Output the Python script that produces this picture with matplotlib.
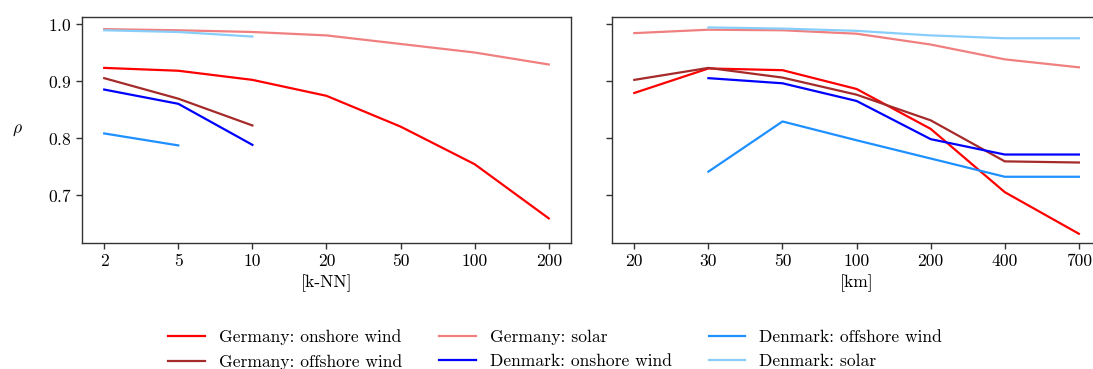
import numpy as np
import matplotlib
matplotlib.use("Agg")
import matplotlib.pyplot as plt

plt.rcParams['font.family'] = 'serif'
plt.rcParams['font.serif'] = ['cmr10', 'DejaVu Serif']
plt.rcParams['mathtext.fontset'] = 'cm'
plt.rcParams['axes.formatter.use_mathtext'] = True
plt.rcParams['font.size'] = 12.6

# k-NN panel
knn_labels = ['2', '5', '10', '20', '50', '100', '200']
knn_de_onshore = [0.923, 0.918, 0.902, 0.874, 0.820, 0.754, 0.659]
knn_de_offshore = [0.905, 0.869, 0.822]
knn_de_solar = [0.991, 0.989, 0.986, 0.980, 0.965, 0.950, 0.929]
knn_dk_onshore = [0.885, 0.860, 0.788]
knn_dk_offshore = [0.808, 0.787]
knn_dk_solar = [0.989, 0.986, 0.978]

# km panel
km_labels = ['20', '30', '50', '100', '200', '400', '700']
km_de_onshore = [0.879, 0.922, 0.919, 0.886, 0.816, 0.705, 0.632]
km_de_offshore = [0.902, 0.923, 0.906, 0.876, 0.831, 0.759, 0.757]
km_de_solar = [0.984, 0.990, 0.989, 0.983, 0.964, 0.938, 0.924]
km_dk_onshore = [0.905, 0.896, 0.865, 0.798, 0.771, 0.771]
km_dk_offshore = [0.741, 0.829, 0.796, 0.764, 0.732, 0.732]
km_dk_solar = [0.994, 0.992, 0.988, 0.980, 0.975, 0.975]

names = ['Germany: onshore wind', 'Germany: offshore wind', 'Germany: solar',
         'Denmark: onshore wind', 'Denmark: offshore wind', 'Denmark: solar']
colors = ['red', 'brown', 'lightcoral', 'blue', 'dodgerblue', 'lightskyblue']

fig = plt.figure(figsize=(10.93, 3.69), dpi=100)
ax1 = fig.add_axes([0.075, 0.3415, 0.4474, 0.6132])
# right panel runs past the figure edge, as in the original crop
ax2 = fig.add_axes([0.560, 0.3415, 0.4474, 0.6132], sharey=ax1)

knn_series = [knn_de_onshore, knn_de_offshore, knn_de_solar,
              knn_dk_onshore, knn_dk_offshore, knn_dk_solar]
for vals, c, n in zip(knn_series, colors, names):
    ax1.plot(np.arange(len(vals)), vals, color=c, lw=1.6, label=n)

km_series = [km_de_onshore, km_de_offshore, km_de_solar,
             km_dk_onshore, km_dk_offshore, km_dk_solar]
for vals, c, n in zip(km_series, colors, names):
    start = len(km_labels) - len(vals)
    ax2.plot(np.arange(start, len(km_labels)), vals, color=c, lw=1.6, label=n)

ax1.set_xticks(range(len(knn_labels)))
ax1.set_xticklabels(knn_labels)
ax1.set_xlim(-0.3, 6.3)
ax1.set_xlabel('[k-NN]', labelpad=4)
ax1.set_ylabel(r'$\rho$', rotation=0, labelpad=22, va='center')

ax2.set_xticks(range(len(km_labels)))
ax2.set_xticklabels(km_labels)
ax2.set_xlim(-0.3, 6.3)
ax2.set_xlabel('[km]', labelpad=4)
ax2.tick_params(labelleft=False)

ax1.set_ylim(0.6158, 1.0128)
ax1.set_yticks([0.7, 0.8, 0.9, 1.0])

for ax in (ax1, ax2):
    for s in ax.spines.values():
        s.set_color('#333333')
        s.set_linewidth(1.0)
    ax.tick_params(color='#333333', width=1.0, length=4)

handles, labels = ax1.get_legend_handles_labels()
fig.legend(handles, labels, loc='center', bbox_to_anchor=(0.508, 0.053),
           ncol=3, frameon=False, columnspacing=2.1, handlelength=2.1,
           labelspacing=0.5, handletextpad=0.8)

fig.savefig('out.png', dpi=100)
